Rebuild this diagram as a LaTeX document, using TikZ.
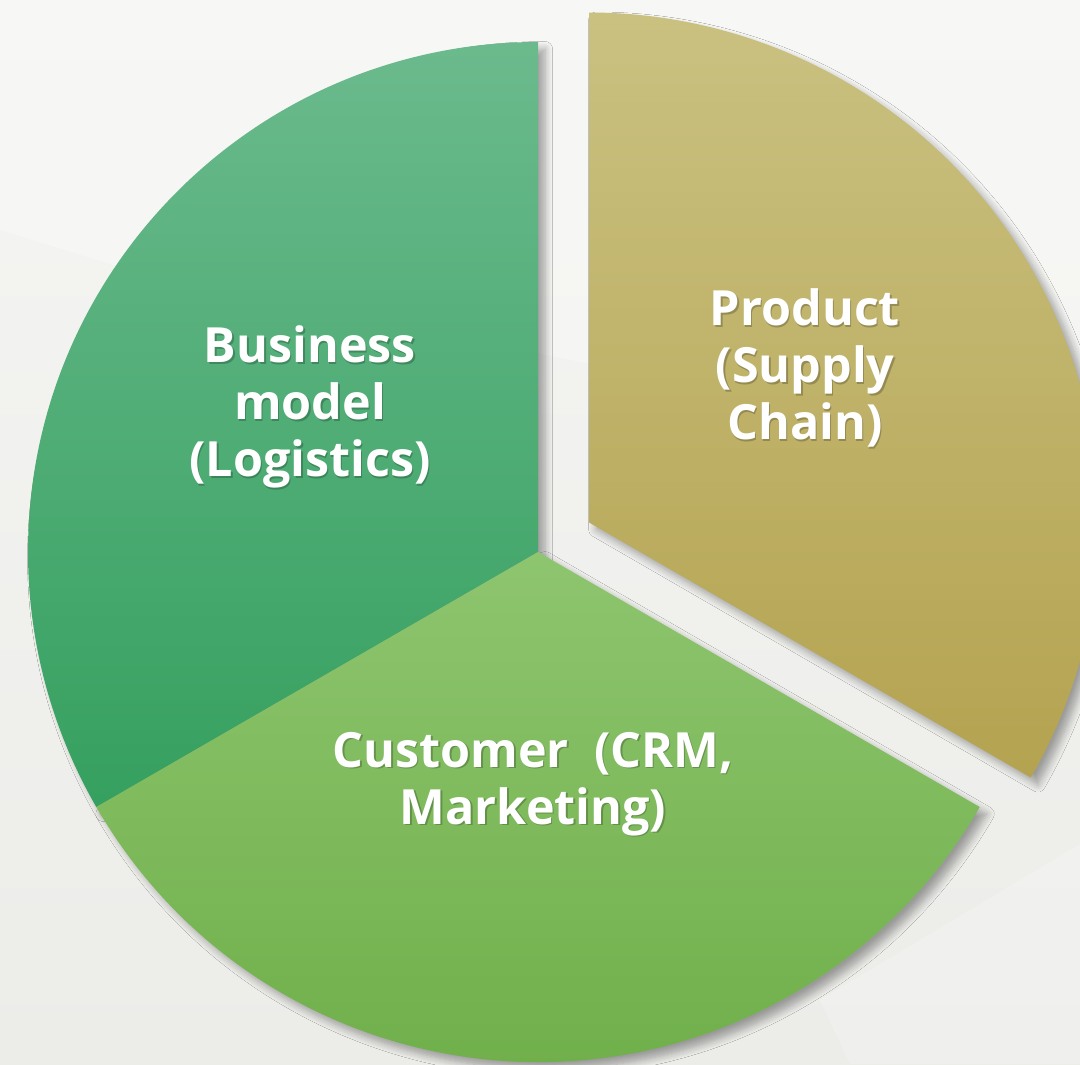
\documentclass[tikz,border=0pt]{standalone}
\usepackage{fontspec}
\setmainfont{Open Sans}
\usetikzlibrary{calc,shadows.blur}

\definecolor{bgtop}{HTML}{F5F5F3}
\definecolor{bgbot}{HTML}{ECECE9}
\definecolor{bmtop}{HTML}{6BBA8D}
\definecolor{bmbot}{HTML}{35A05F}
\definecolor{cutop}{HTML}{8EC56F}
\definecolor{cubot}{HTML}{6CAD46}
\definecolor{prtop}{HTML}{CAC181}
\definecolor{prbot}{HTML}{B4A350}

\begin{document}
\begin{tikzpicture}[
  slice/.style={blur shadow={shadow xshift=2pt, shadow yshift=-2pt, shadow blur steps=8, shadow opacity=35}},
  label/.style={align=center, text=white, font=\bfseries\fontsize{13.8}{16.2}\selectfont, inner sep=0pt},
  labelshadow/.style={label, text=black, opacity=0.22}
]
\useasboundingbox (0,0) rectangle (10.8,10.64);
\clip (0,0) rectangle (10.8,10.64);

% background
\shade[top color=bgtop, bottom color=bgbot] (0,0) rectangle (10.8,10.64);
\fill[white, opacity=0.25] (0,10.64) -- (10.8,10.64) -- (10.8,6) -- (1.3,7.94) -- (0,8.34) -- cycle;
\fill[white, opacity=0.2] (8.2,0.64) -- (10.8,2.2) -- (10.8,0) -- (8.5,0) -- cycle;

\coordinate (O) at (5.38,5.12);
\coordinate (P) at ($(O)+(30:0.59)$);

% slices
\shade[slice, top color=bmtop, bottom color=bmbot]
  (O) -- ++(90:5.1) arc[start angle=90, end angle=210, radius=5.1] -- cycle;
\shade[slice, top color=cutop, bottom color=cubot]
  (O) -- ++(210:5.1) arc[start angle=210, end angle=330, radius=5.1] -- cycle;
\shade[slice, top color=prtop, bottom color=prbot]
  (P) -- ++(-30:5.1) arc[start angle=-30, end angle=90, radius=5.1] -- cycle;

% labels
\node[labelshadow] (bms) at (3.115,6.555) {Business\\model\\(Logistics)};
\node[label] (bm) at (3.10,6.57) {Business\\model\\(Logistics)};

\node[labelshadow] (prs) at (8.065,6.945) {Product\\(Supply\\Chain)};
\node[label] (pr) at (8.05,6.96) {Product\\(Supply\\Chain)};

\node[labelshadow] (cus) at (5.345,2.785) {Customer\ \ (CRM,\\Marketing)};
\node[label] (cu) at (5.33,2.80) {Customer\ \ (CRM,\\Marketing)};

\end{tikzpicture}
\end{document}
